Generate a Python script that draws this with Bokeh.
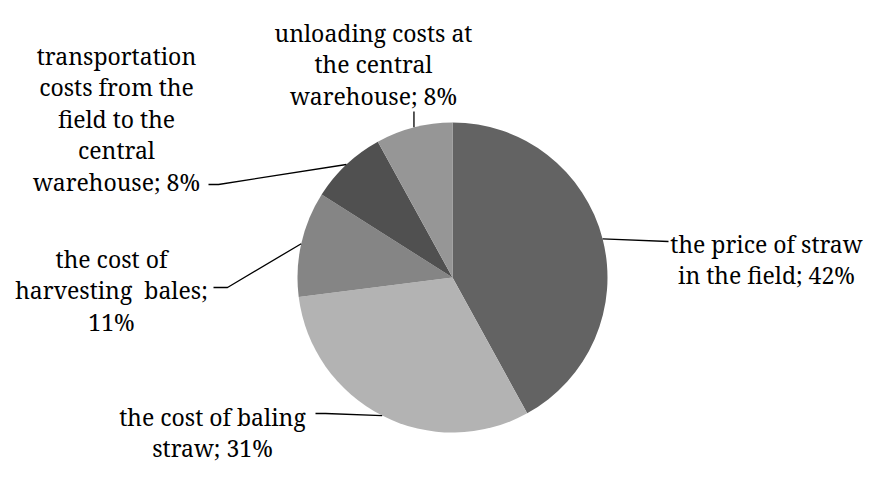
import math
from bokeh.plotting import figure
from bokeh.models import Range1d, ColumnDataSource
from bokeh.core.properties import value
from bokeh.embed import file_html
from bokeh.resources import INLINE

# ---- data ----
categories = [
    "the price of straw in the field",
    "the cost of baling straw",
    "the cost of harvesting  bales",
    "transportation costs from the field to the central warehouse",
    "unloading costs at the central warehouse",
]
shares = [42, 31, 11, 8, 8]
label_lines = [
    ["the price of straw", "in the field; 42%"],
    ["the cost of baling", "straw; 31%"],
    ["the cost of", "harvesting\u00a0 bales;", "11%"],
    ["transportation", "costs from the", "field to the", "central", "warehouse; 8%"],
    ["unloading costs at", "the central", "warehouse; 8%"],
]
colors = ["#636363", "#b3b3b3", "#858585", "#505050", "#969696"]

FONT = "Noto Serif"
FONT_SIZE = "23px"

# ---- layout (picture pixel coordinates) ----
FW, FH = 869, 463
def Y(yp):
    return FH - yp

cx, cy, R = 452, 277, 155
label_pos = [(766, 243), (212, 416), (111, 258), (116, 55), (373, 32)]
line_gap = 31.5
leader_tail = [
    [(668, 241)],
    [(325, 413), (315, 413)],
    [(227, 287), (213, 287)],
    [(218, 184), (208, 184)],
    [None],
]

p = figure(width=FW, height=FH, output_backend="svg", toolbar_location=None,
           x_range=Range1d(0, FW), y_range=Range1d(0, FH), min_border=0)
p.axis.visible = False
p.grid.visible = False
p.outline_line_color = None
p.background_fill_color = "white"
p.border_fill_color = "white"

total = float(sum(shares))
starts, ends, mids = [], [], []
acc = 0.0
for s in shares:
    a0 = acc / total
    a1 = (acc + s) / total
    starts.append(math.pi / 2 - 2 * math.pi * a1)
    ends.append(math.pi / 2 - 2 * math.pi * a0)
    mids.append(math.pi / 2 - 2 * math.pi * (a0 + a1) / 2)
    acc += s

src = ColumnDataSource(dict(start=starts, end=ends, color=colors, name=categories))
p.wedge(x=cx, y=Y(cy), radius=R, start_angle="start", end_angle="end",
        direction="anticlock", fill_color="color", line_color=None, source=src)

xs, ys = [], []
for m, tail in zip(mids, leader_tail):
    ex = cx + R * math.cos(m)
    ey = cy - R * math.sin(m)
    lx, ly = [ex], [Y(ey)]
    for pt in tail:
        if pt is None:
            lx.append(ex); ly.append(Y(111))
        else:
            lx.append(pt[0]); ly.append(Y(pt[1]))
    xs.append(lx); ys.append(ly)
p.multi_line(xs=xs, ys=ys, line_color="black", line_width=1.3)

tx, ty, tt = [], [], []
for (lx0, ly0), lines in zip(label_pos, label_lines):
    for i, t in enumerate(lines):
        tx.append(lx0)
        ty.append(Y(ly0 + i * line_gap))
        tt.append(t)
p.text(x=tx, y=ty, text=tt, text_align="center", text_baseline="alphabetic",
       text_font=value(FONT), text_font_size=FONT_SIZE, text_color="black")

open("out.html", "w").write(file_html(p, INLINE))
